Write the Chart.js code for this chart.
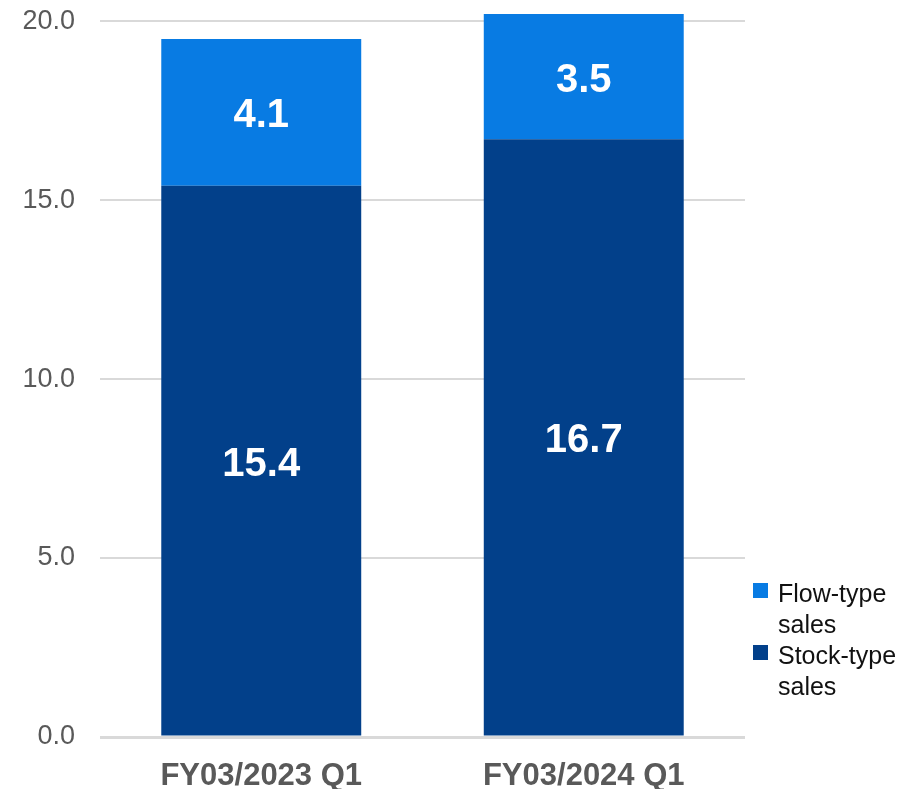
<!DOCTYPE html>
<html>
<head>
<meta charset="utf-8">
<script src="https://cdn.jsdelivr.net/npm/chart.js@4/dist/chart.umd.min.js"></script>
<style>
  html, body { margin: 0; padding: 0; background: #ffffff; }
  #wrap { width: 905px; height: 789px; position: relative; }
</style>
</head>
<body>
<div id="wrap"><canvas id="chart" width="905" height="789"></canvas></div>
<script>
// Quarterly sales breakdown (billions)
const categories = ['FY03/2023 Q1', 'FY03/2024 Q1'];
const stockSales = [15.4, 16.7];
const flowSales = [4.1, 3.5];
const yTicks = [0, 5, 10, 15, 20];

const FONT = '"Liberation Sans", Arial, sans-serif';
const DARK = '#02408A';
const LIGHT = '#087BE3';

// White value labels centred in each stacked segment
const valueLabels = {
  id: 'valueLabels',
  afterDatasetsDraw(chart) {
    const ctx = chart.ctx;
    ctx.save();
    ctx.fillStyle = '#ffffff';
    ctx.font = 'bold 40px ' + FONT;
    ctx.textAlign = 'center';
    ctx.textBaseline = 'middle';
    chart.data.datasets.forEach((ds, i) => {
      const meta = chart.getDatasetMeta(i);
      meta.data.forEach((bar, j) => {
        const p = bar.getProps(['x', 'y', 'base'], true);
        ctx.fillText(ds.data[j].toFixed(1), p.x, (p.y + p.base) / 2 + 4);
      });
    });
    ctx.restore();
  }
};

// Legend on the right with wrapped item names
const sideLegend = {
  id: 'sideLegend',
  afterDraw(chart) {
    const ctx = chart.ctx;
    const items = [
      { color: LIGHT, lines: ['Flow-type', 'sales'] },
      { color: DARK, lines: ['Stock-type', 'sales'] }
    ];
    const x0 = 753, lineH = 31;
    let y = 602;
    ctx.save();
    ctx.font = '25px ' + FONT;
    ctx.textAlign = 'left';
    ctx.textBaseline = 'alphabetic';
    items.forEach(it => {
      ctx.fillStyle = it.color;
      ctx.fillRect(x0, y - 19, 15, 15);
      ctx.fillStyle = '#111111';
      it.lines.forEach((t, k) => ctx.fillText(t, 778, y + k * lineH));
      y += lineH * 2;
    });
    ctx.restore();
  }
};

new Chart(document.getElementById('chart'), {
  type: 'bar',
  data: {
    labels: categories,
    datasets: [
      { label: 'Stock-type sales', data: stockSales, backgroundColor: DARK, borderWidth: 0 },
      { label: 'Flow-type sales', data: flowSales, backgroundColor: LIGHT, borderWidth: 0 }
    ]
  },
  options: {
    responsive: false,
    animation: false,
    layout: { padding: { left: 0, right: 160, top: 14, bottom: 0 } },
    datasets: { bar: { categoryPercentage: 1, barPercentage: 0.62 } },
    plugins: { legend: { display: false }, tooltip: { enabled: false } },
    scales: {
      x: {
        stacked: true,
        grid: { display: false, drawTicks: false },
        border: { display: false },
        ticks: { color: '#595959', font: { family: FONT, size: 31, weight: 'bold' }, padding: 21 },
        afterFit(s) { s.height = 52; s.paddingLeft = 0; s.paddingRight = 0; }
      },
      y: {
        stacked: true,
        min: 0,
        max: 20.2,
        afterBuildTicks(s) { s.ticks = yTicks.map(v => ({ value: v })); },
        grid: {
          color: '#D9D9D9',
          lineWidth: c => (c.tick && c.tick.value === 0 ? 3 : 2),
          drawTicks: false
        },
        border: { display: false },
        ticks: {
          color: '#595959',
          font: { family: FONT, size: 27 },
          padding: 25,
          callback: v => Number(v).toFixed(1)
        },
        afterFit(s) { s.width = 100; s.paddingTop = 0; s.paddingBottom = 0; }
      }
    }
  },
  plugins: [valueLabels, sideLegend]
});
</script>
</body>
</html>
